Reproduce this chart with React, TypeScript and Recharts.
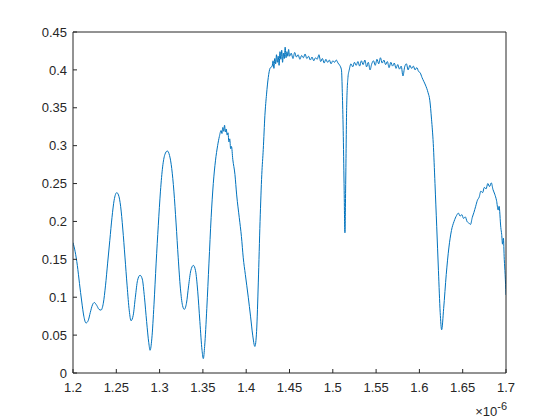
import { LineChart, Line, XAxis, YAxis, Label } from 'recharts';

// wavelength in units of 1e-6 m
const wavelength = [
  1.2, 1.2025, 1.205, 1.2075, 1.21, 1.2125, 1.215, 1.2175, 1.22, 1.2225, 1.2246, 1.2275, 1.23, 1.2323,
  1.235, 1.2375, 1.24, 1.2425, 1.245, 1.2475, 1.2505, 1.2525, 1.255, 1.2575, 1.26, 1.2625, 1.265, 1.267,
  1.2695, 1.272, 1.2745, 1.2774, 1.28, 1.2825, 1.285, 1.2875, 1.289, 1.291, 1.2935, 1.296, 1.2985, 1.301,
  1.3035, 1.306, 1.3089, 1.3115, 1.314, 1.3165, 1.319, 1.3215, 1.324, 1.3265, 1.3285, 1.331, 1.3335, 1.336,
  1.339, 1.3415, 1.344, 1.3465, 1.349, 1.3505, 1.352, 1.3545, 1.357, 1.3595, 1.362, 1.3645, 1.367, 1.369,
  1.371, 1.372, 1.373, 1.374, 1.375, 1.376, 1.377, 1.378, 1.379, 1.38, 1.381, 1.382, 1.383, 1.3845,
  1.387, 1.389, 1.392, 1.3945, 1.3966, 1.399, 1.4024, 1.405, 1.4075, 1.41, 1.412, 1.414, 1.416, 1.418,
  1.4197, 1.4216, 1.4235, 1.4255, 1.4275,
  // plateau, left of the dip
  1.43, 1.431, 1.432, 1.433, 1.434, 1.435, 1.436, 1.437, 1.438, 1.439, 1.44, 1.441, 1.442, 1.443, 1.444,
  1.445, 1.446, 1.447, 1.448, 1.449, 1.45, 1.452, 1.454, 1.456, 1.458,
  1.46, 1.462, 1.464, 1.466, 1.468, 1.47, 1.472, 1.474, 1.476, 1.478, 1.48, 1.482, 1.484, 1.486, 1.488,
  1.49, 1.492, 1.494, 1.496, 1.498, 1.5, 1.502, 1.504, 1.506, 1.508,
  // dip
  1.51, 1.511, 1.512, 1.513, 1.514, 1.515, 1.516, 1.5175,
  // plateau, right of the dip
  1.519, 1.521, 1.523, 1.525, 1.527, 1.529, 1.531, 1.533, 1.535, 1.537, 1.539, 1.541, 1.543, 1.545,
  1.547, 1.549, 1.551, 1.553, 1.555, 1.557, 1.559, 1.561, 1.563, 1.565, 1.567, 1.569, 1.571, 1.573,
  1.575, 1.577, 1.579, 1.581, 1.583, 1.585, 1.587, 1.589, 1.591, 1.593, 1.595, 1.597, 1.599,
  // fall and tail
  1.601, 1.603, 1.605, 1.607, 1.61, 1.612, 1.614, 1.616, 1.618, 1.62, 1.622, 1.624, 1.6257, 1.628,
  1.631, 1.634, 1.637, 1.64, 1.643, 1.645, 1.647, 1.649, 1.651, 1.653, 1.655, 1.657, 1.659, 1.661,
  1.663, 1.665, 1.667, 1.669, 1.671, 1.673, 1.675, 1.677, 1.679, 1.681, 1.683, 1.685, 1.687, 1.689,
  1.691, 1.692, 1.694, 1.695, 1.696, 1.697, 1.698, 1.699, 1.7,
];

const signal = [
  0.172, 0.16, 0.142, 0.118, 0.095, 0.075, 0.066, 0.069, 0.08, 0.09, 0.093, 0.089, 0.084, 0.083,
  0.092, 0.115, 0.145, 0.175, 0.205, 0.228, 0.238, 0.235, 0.22, 0.19, 0.153, 0.115, 0.082, 0.069,
  0.076, 0.1, 0.122, 0.129, 0.124, 0.1, 0.068, 0.04, 0.03, 0.045, 0.09, 0.145, 0.195, 0.24,
  0.272, 0.288, 0.293, 0.287, 0.27, 0.24, 0.198, 0.152, 0.112, 0.089, 0.084, 0.092, 0.115, 0.135,
  0.142, 0.135, 0.108, 0.068, 0.03, 0.019, 0.035, 0.085, 0.145, 0.205, 0.25, 0.28, 0.3, 0.312,
  0.32, 0.316, 0.324, 0.319, 0.327, 0.318, 0.322, 0.314, 0.317, 0.305, 0.309, 0.296, 0.299, 0.282,
  0.262, 0.235, 0.205, 0.18, 0.152, 0.13, 0.1, 0.075, 0.05, 0.035, 0.055, 0.12, 0.2, 0.262,
  0.295, 0.34, 0.368, 0.39, 0.402,
  0.405, 0.412, 0.402, 0.415, 0.408, 0.42, 0.41, 0.418, 0.406, 0.424, 0.414, 0.426, 0.41, 0.422, 0.415,
  0.43, 0.416, 0.424, 0.418, 0.427, 0.418, 0.422, 0.415, 0.423, 0.417,
  0.42, 0.414, 0.419, 0.416, 0.421, 0.415, 0.418, 0.413, 0.417, 0.412, 0.416, 0.414, 0.42, 0.411, 0.415,
  0.409, 0.414, 0.41, 0.413, 0.408, 0.412, 0.41, 0.413, 0.409, 0.406,
  0.4, 0.37, 0.32, 0.25, 0.185, 0.26, 0.35, 0.39,
  0.4, 0.408, 0.404, 0.41, 0.406, 0.411, 0.405, 0.412, 0.407, 0.413, 0.404, 0.41, 0.4, 0.408,
  0.412, 0.406, 0.414, 0.408, 0.416, 0.409, 0.413, 0.407, 0.411, 0.403, 0.41, 0.405, 0.409, 0.402,
  0.407, 0.401, 0.405, 0.392, 0.404, 0.408, 0.4, 0.406, 0.402, 0.405, 0.4, 0.403, 0.398,
  0.396, 0.39, 0.385, 0.38, 0.37, 0.36, 0.335, 0.303, 0.25, 0.193, 0.135, 0.08, 0.057, 0.085,
  0.13, 0.165, 0.188, 0.2, 0.208, 0.211, 0.207, 0.209, 0.204, 0.206, 0.2, 0.198, 0.196, 0.205,
  0.212, 0.22, 0.228, 0.232, 0.24, 0.238, 0.245, 0.243, 0.25, 0.246, 0.251, 0.242, 0.236, 0.228,
  0.215, 0.22, 0.192, 0.183, 0.17, 0.178, 0.15, 0.13, 0.103,
];

const xTicks = [1.2, 1.25, 1.3, 1.35, 1.4, 1.45, 1.5, 1.55, 1.6, 1.65, 1.7];
const yTicks = [0, 0.05, 0.1, 0.15, 0.2, 0.25, 0.3, 0.35, 0.4, 0.45];

const data = wavelength.map((w, i) => ({ wl: w, v: signal[i] }));

const AXIS = '#262626';
const FONT = '"Liberation Sans", Arial, sans-serif';
const tickStyle = { fill: AXIS, fontSize: 13, fontFamily: FONT };
const fmt = (v: number) => String(Number(v.toFixed(2)));

export default function App() {
  return (
    <div style={{ position: 'absolute', left: 0, top: 0, width: 560, height: 420, background: '#fff' }}>
      <LineChart width={560} height={420} data={data} margin={{ top: 31, right: 53, bottom: 0, left: 0 }}>
        <XAxis
          xAxisId="b"
          dataKey="wl"
          type="number"
          domain={[1.2, 1.7]}
          allowDataOverflow
          ticks={xTicks}
          interval={0}
          tickFormatter={fmt}
          height={47}
          tickSize={-4}
          tickMargin={14}
          stroke={AXIS}
          tick={tickStyle}
        >
          <Label
            content={({ viewBox }: any) => (
              <text
                x={viewBox.x + viewBox.width + 1}
                y={viewBox.y + 43}
                textAnchor="end"
                fill={AXIS}
                fontFamily={FONT}
                fontSize={13}
              >
                <tspan>×</tspan>
                <tspan>10</tspan>
                <tspan dy={-6} fontSize={11}>-6</tspan>
              </text>
            )}
          />
        </XAxis>
        <XAxis
          xAxisId="t"
          orientation="top"
          type="number"
          domain={[1.2, 1.7]}
          allowDataOverflow
          ticks={xTicks}
          interval={0}
          height={1}
          tickSize={-4}
          tick={false}
          stroke={AXIS}
        />
        <YAxis
          yAxisId="l"
          type="number"
          domain={[0, 0.45]}
          allowDataOverflow
          ticks={yTicks}
          interval={0}
          tickFormatter={fmt}
          width={73}
          tickSize={-4}
          tickMargin={10}
          stroke={AXIS}
          tick={tickStyle}
        />
        <YAxis
          yAxisId="r"
          orientation="right"
          type="number"
          domain={[0, 0.45]}
          allowDataOverflow
          ticks={yTicks}
          interval={0}
          width={1}
          tickSize={-4}
          tick={false}
          stroke={AXIS}
        />
        <Line
          xAxisId="b"
          yAxisId="l"
          dataKey="v"
          type="monotone"
          stroke="#0072BD"
          strokeWidth={1}
          dot={false}
          isAnimationActive={false}
        />
      </LineChart>
    </div>
  );
}
